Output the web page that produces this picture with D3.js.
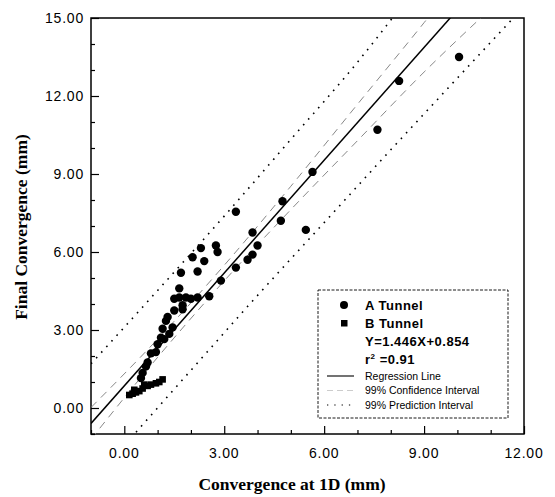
<!DOCTYPE html>
<html>
<head>
<meta charset="utf-8">
<script src="https://cdn.jsdelivr.net/npm/d3@7/dist/d3.min.js"></script>
<style>
  body { margin: 0; background: #fff; }
  svg { display: block; }
  .tick-label { font-family: "Liberation Sans", Arial, sans-serif; font-size: 14px; letter-spacing: 0.8px; }
  .axis-title { font-family: "Liberation Serif", "Times New Roman", serif; font-size: 17.5px; font-weight: bold; }
  .leg-bold { font-family: "Liberation Sans", Arial, sans-serif; font-size: 13px; font-weight: bold; letter-spacing: 0.5px; }
  .leg-small { font-family: "Liberation Sans", Arial, sans-serif; font-size: 10.5px; }
</style>
</head>
<body>
<svg id="chart" width="555" height="497"></svg>
<script>
// values

// A Tunnel (circles): [x, y]
const tunnelA = [
  [0.50, 1.15], [0.55, 1.35], [0.65, 1.60], [0.70, 1.75], [0.80, 2.10], [0.95, 2.15],
  [1.00, 2.45], [1.10, 2.70], [1.20, 2.65], [1.35, 2.85], [1.15, 3.05], [1.45, 3.10],
  [1.25, 3.35], [1.30, 3.50], [1.50, 3.75], [1.75, 3.80], [1.75, 3.95], [1.50, 4.20],
  [1.65, 4.25], [1.85, 4.25], [2.00, 4.20], [2.20, 4.25], [1.65, 4.60], [1.70, 5.20],
  [2.20, 5.25], [2.05, 5.80], [2.40, 5.65], [2.30, 6.15], [2.75, 6.25], [2.80, 6.00],
  [2.55, 4.30], [2.90, 4.90], [3.35, 5.40], [3.35, 7.55], [3.70, 5.70], [3.85, 5.90],
  [4.00, 6.25], [3.85, 6.75], [4.70, 7.20], [4.75, 7.95], [5.45, 6.85], [5.65, 9.08],
  [7.60, 10.70], [8.25, 12.58], [10.05, 13.50]
];

// B Tunnel (squares)
const tunnelB = [
  [0.15, 0.50], [0.25, 0.55], [0.30, 0.70], [0.35, 0.60], [0.45, 0.65], [0.55, 0.75],
  [0.60, 0.90], [0.70, 0.85], [0.80, 0.90], [0.95, 0.95], [1.05, 1.00], [1.15, 1.10]
];

// regression Y = 1.446X + 0.854
const slope = 1.446, intercept = 0.854, r2 = 0.91;

// interval curves, points
const confUpper = [[-1, 0.02], [1, 2.65], [3, 5.49], [5, 8.53], [7, 11.68], [9, 14.82], [9.3, 15.3]];
const confLower = [[-1, -1.20], [1, 1.95], [3, 4.89], [5, 7.63], [7, 10.28], [9, 12.92], [11, 15.36]];
const predUpper = [[-1, 1.70], [1, 4.52], [3, 7.38], [5, 10.33], [7, 13.30], [8.2, 15.25]];
const predLower = [[0.2, -1.15], [2, 1.45], [4, 4.33], [6, 7.13], [8, 9.93], [10, 12.69], [12, 15.44]];

const xTicks = [0, 3, 6, 9, 12];
const yTicks = [0, 3, 6, 9, 12, 15];
const xMinor = [-1, 1, 2, 4, 5, 7, 8, 10, 11];
const yMinor = [-1, 1, 2, 4, 5, 7, 8, 10, 11, 13, 14];

const svg = d3.select('#chart');
const pLeft = 91, pRight = 524, pTop = 18, pBottom = 434;

const x = d3.scaleLinear().domain([-1, 12]).range([pLeft, pRight]);
const y = d3.scaleLinear().domain([-1, 15]).range([pBottom, pTop]);

svg.append('rect').attr('width', 555).attr('height', 497).attr('fill', '#fff');

svg.append('clipPath').attr('id', 'plot')
  .append('rect')
  .attr('x', pLeft).attr('y', pTop)
  .attr('width', pRight - pLeft).attr('height', pBottom - pTop);

// axes, ticks pointing inward
const gx = svg.append('g').attr('transform', `translate(0,${pBottom})`);
gx.call(d3.axisBottom(x).tickValues(xTicks).tickSize(-8).tickFormat(''));
gx.select('.domain').remove();
const gxm = svg.append('g').attr('transform', `translate(0,${pBottom})`);
gxm.call(d3.axisBottom(x).tickValues(xMinor).tickSize(-4).tickFormat(''));
gxm.select('.domain').remove();

const gy = svg.append('g').attr('transform', `translate(${pLeft},0)`);
gy.call(d3.axisLeft(y).tickValues(yTicks).tickSize(-8).tickFormat(''));
gy.select('.domain').remove();
const gym = svg.append('g').attr('transform', `translate(${pLeft},0)`);
gym.call(d3.axisLeft(y).tickValues(yMinor).tickSize(-4).tickFormat(''));
gym.select('.domain').remove();

svg.selectAll('.tick line').attr('stroke', '#000').attr('stroke-width', 1.2);

// frame
svg.append('rect')
  .attr('x', pLeft).attr('y', pTop)
  .attr('width', pRight - pLeft).attr('height', pBottom - pTop)
  .attr('fill', 'none').attr('stroke', '#000').attr('stroke-width', 1.5);

// tick labels
svg.append('g').selectAll('text')
  .data(xTicks).enter().append('text')
  .attr('class', 'tick-label')
  .attr('x', d => x(d))
  .attr('y', pBottom + 24)
  .attr('text-anchor', 'middle')
  .text(d => d.toFixed(2));

svg.append('g').selectAll('text')
  .data(yTicks).enter().append('text')
  .attr('class', 'tick-label')
  .attr('x', pLeft - 7)
  .attr('y', d => y(d) + 5)
  .attr('text-anchor', 'end')
  .text(d => d.toFixed(2));

// titles
svg.append('text').attr('class', 'axis-title')
  .attr('x', 292).attr('y', 490)
  .attr('text-anchor', 'middle')
  .text('Convergence at 1D (mm)');

svg.append('text').attr('class', 'axis-title')
  .attr('transform', 'translate(27,227) rotate(-90)')
  .attr('text-anchor', 'middle')
  .text('Final Convergence (mm)');

// lines
const line = d3.line().x(d => x(d[0])).y(d => y(d[1])).curve(d3.curveMonotoneX);
const plot = svg.append('g').attr('clip-path', 'url(#plot)');

[confUpper, confLower].forEach(c => {
  plot.append('path').attr('d', line(c))
    .attr('fill', 'none').attr('stroke', '#888').attr('stroke-width', 1)
    .attr('stroke-dasharray', '8,6');
});
[predUpper, predLower].forEach(c => {
  plot.append('path').attr('d', line(c))
    .attr('fill', 'none').attr('stroke', '#000').attr('stroke-width', 1.6)
    .attr('stroke-dasharray', '1.6,6');
});

const regEnds = [-1, 12].map(v => [v, slope * v + intercept]);
plot.append('path').attr('d', d3.line().x(d => x(d[0])).y(d => y(d[1]))(regEnds))
  .attr('fill', 'none').attr('stroke', '#000').attr('stroke-width', 1.5);

// points
plot.append('g').selectAll('rect')
  .data(tunnelB).enter().append('rect')
  .attr('x', d => x(d[0]) - 3.3).attr('y', d => y(d[1]) - 3.3)
  .attr('width', 6.6).attr('height', 6.6)
  .attr('fill', '#000');

plot.append('g').selectAll('circle')
  .data(tunnelA).enter().append('circle')
  .attr('cx', d => x(d[0])).attr('cy', d => y(d[1]))
  .attr('r', 4.2)
  .attr('fill', '#000');

// legend
const lg = svg.append('g');
lg.append('rect')
  .attr('x', 318).attr('y', 290).attr('width', 190).attr('height', 128)
  .attr('fill', '#fff').attr('stroke', '#000').attr('stroke-width', 0.9)
  .attr('stroke-dasharray', '3,1.5');

lg.append('circle').attr('cx', 344).attr('cy', 305).attr('r', 4).attr('fill', '#000');
lg.append('rect').attr('x', 341).attr('y', 320).attr('width', 6.5).attr('height', 6.5).attr('fill', '#000');

const boldRows = [
  ['A Tunnel', 310],
  ['B Tunnel', 328],
  [`Y=${slope}X+${intercept}`, 346]
];
boldRows.forEach(r => {
  lg.append('text').attr('class', 'leg-bold').attr('x', 365).attr('y', r[1]).text(r[0]);
});
const rt = lg.append('text').attr('class', 'leg-bold').attr('x', 365).attr('y', 364);
rt.append('tspan').text('r');
rt.append('tspan').attr('dy', -5).attr('font-size', '8px').text('2');
rt.append('tspan').attr('dy', 5).text(' =' + r2.toFixed(2));

const smallRows = [
  ['Regression Line', 379.5, 'solid'],
  ['99% Confidence Interval', 394, 'conf'],
  ['99% Prediction Interval', 408.5, 'pred']
];
smallRows.forEach(r => {
  lg.append('text').attr('class', 'leg-small').attr('x', 365).attr('y', r[1]).text(r[0]);
  const s = lg.append('line')
    .attr('x1', 327).attr('x2', 354)
    .attr('y1', r[1] - 3.5).attr('y2', r[1] - 3.5)
    .attr('stroke-width', 1.1);
  if (r[2] === 'solid') s.attr('stroke', '#000');
  if (r[2] === 'conf') s.attr('stroke', '#ccc').attr('stroke-dasharray', '6,4');
  if (r[2] === 'pred') s.attr('stroke', '#000').attr('stroke-dasharray', '1.3,6');
});
</script>
</body>
</html>
